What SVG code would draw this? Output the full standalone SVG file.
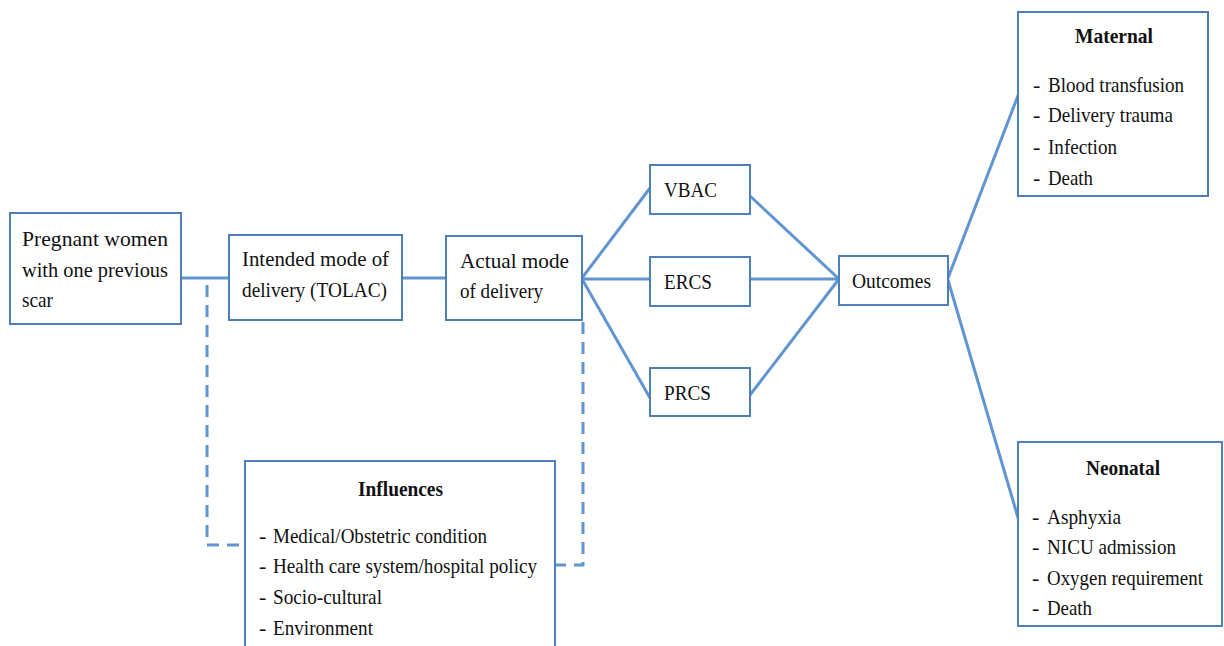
<svg xmlns="http://www.w3.org/2000/svg" width="1224" height="646" viewBox="0 0 1224 646">
<style>
.box{fill:#fff;stroke:#4f7fb8;stroke-width:2}
.ln{fill:none;stroke:#6195d0;stroke-width:3}
.dash{fill:none;stroke:#6195d0;stroke-width:3;stroke-dasharray:12 8}
text{font-family:"Liberation Serif","Times New Roman",serif;font-size:22px;fill:#111}
.b{font-weight:bold}
</style>
<rect width="1224" height="646" fill="#fff"/>
<g id="connectors">
<line class="ln" x1="181" y1="278" x2="229" y2="278"/>
<line class="ln" x1="402" y1="278" x2="446" y2="278"/>
<line class="ln" x1="582" y1="278" x2="650" y2="188"/>
<line class="ln" x1="582" y1="279" x2="650" y2="279"/>
<line class="ln" x1="582" y1="279" x2="650" y2="398"/>
<line class="ln" x1="750" y1="196" x2="839" y2="279"/>
<line class="ln" x1="750" y1="279" x2="839" y2="279"/>
<line class="ln" x1="750" y1="395" x2="839" y2="279"/>
<line class="ln" x1="948" y1="278" x2="1019" y2="93"/>
<line class="ln" x1="948" y1="280" x2="1019" y2="521"/>
<polyline class="dash" points="207,285 207,545 245,545"/>
<polyline class="dash" points="583,322 583,565 555,565"/>
</g>
<g id="pregnant">
<rect class="box" x="10" y="213" width="171" height="111"/>
<text x="22" y="246" textLength="146" lengthAdjust="spacingAndGlyphs">Pregnant   women</text>
<text x="22" y="277" textLength="146" lengthAdjust="spacingAndGlyphs">with one previous</text>
<text x="22" y="307" textLength="31" lengthAdjust="spacingAndGlyphs">scar</text>
</g>
<g id="intended">
<rect class="box" x="229" y="235" width="173" height="85"/>
<text x="242" y="266" textLength="147" lengthAdjust="spacingAndGlyphs">Intended mode of</text>
<text x="242" y="297" textLength="145" lengthAdjust="spacingAndGlyphs">delivery (TOLAC)</text>
</g>
<g id="actual">
<rect class="box" x="446" y="236" width="136" height="84"/>
<text x="460" y="268" textLength="109" lengthAdjust="spacingAndGlyphs">Actual   mode</text>
<text x="460" y="298" textLength="83" lengthAdjust="spacingAndGlyphs">of delivery</text>
</g>
<g id="vbac">
<rect class="box" x="650" y="165" width="100" height="49"/>
<text x="664" y="197" textLength="53" lengthAdjust="spacingAndGlyphs">VBAC</text>
</g>
<g id="ercs">
<rect class="box" x="650" y="257" width="100" height="49"/>
<text x="664" y="289" textLength="48" lengthAdjust="spacingAndGlyphs">ERCS</text>
</g>
<g id="prcs">
<rect class="box" x="650" y="368" width="100" height="48"/>
<text x="664" y="400" textLength="47" lengthAdjust="spacingAndGlyphs">PRCS</text>
</g>
<g id="outcomes">
<rect class="box" x="839" y="256" width="109" height="49"/>
<text x="852" y="288" textLength="79" lengthAdjust="spacingAndGlyphs">Outcomes</text>
</g>
<g id="maternal">
<rect class="box" x="1018" y="12" width="190" height="184"/>
<text class="b" x="1075" y="43" textLength="78" lengthAdjust="spacingAndGlyphs">Maternal</text>
<text x="1033" y="92">-</text><text x="1048" y="92" textLength="136" lengthAdjust="spacingAndGlyphs">Blood transfusion</text>
<text x="1033" y="122">-</text><text x="1048" y="122" textLength="125" lengthAdjust="spacingAndGlyphs">Delivery trauma</text>
<text x="1033" y="154">-</text><text x="1048" y="154" textLength="69" lengthAdjust="spacingAndGlyphs">Infection</text>
<text x="1033" y="185">-</text><text x="1048" y="185" textLength="45" lengthAdjust="spacingAndGlyphs">Death</text>
</g>
<g id="neonatal">
<rect class="box" x="1018" y="442" width="204" height="184"/>
<text class="b" x="1086" y="475" textLength="74" lengthAdjust="spacingAndGlyphs">Neonatal</text>
<text x="1032" y="524">-</text><text x="1047" y="524" textLength="74" lengthAdjust="spacingAndGlyphs">Asphyxia</text>
<text x="1032" y="554">-</text><text x="1047" y="554" textLength="129" lengthAdjust="spacingAndGlyphs">NICU admission</text>
<text x="1032" y="585">-</text><text transform="translate(1047,585) scale(0.86,1)" x="0" y="0">Oxygen requirement</text>
<text x="1032" y="615">-</text><text x="1047" y="615" textLength="45" lengthAdjust="spacingAndGlyphs">Death</text>
</g>
<g id="influences">
<rect class="box" x="245" y="461" width="310" height="200"/>
<text class="b" x="358" y="496" textLength="85" lengthAdjust="spacingAndGlyphs">Influences</text>
<text x="259" y="543">-</text><text x="273" y="543" textLength="214" lengthAdjust="spacingAndGlyphs">Medical/Obstetric condition</text>
<text x="259" y="573">-</text><text x="273" y="573" textLength="264" lengthAdjust="spacingAndGlyphs">Health care system/hospital policy</text>
<text x="259" y="604">-</text><text x="273" y="604" textLength="109" lengthAdjust="spacingAndGlyphs">Socio-cultural</text>
<text x="259" y="635">-</text><text x="273" y="635" textLength="100" lengthAdjust="spacingAndGlyphs">Environment</text>
</g>
</svg>
